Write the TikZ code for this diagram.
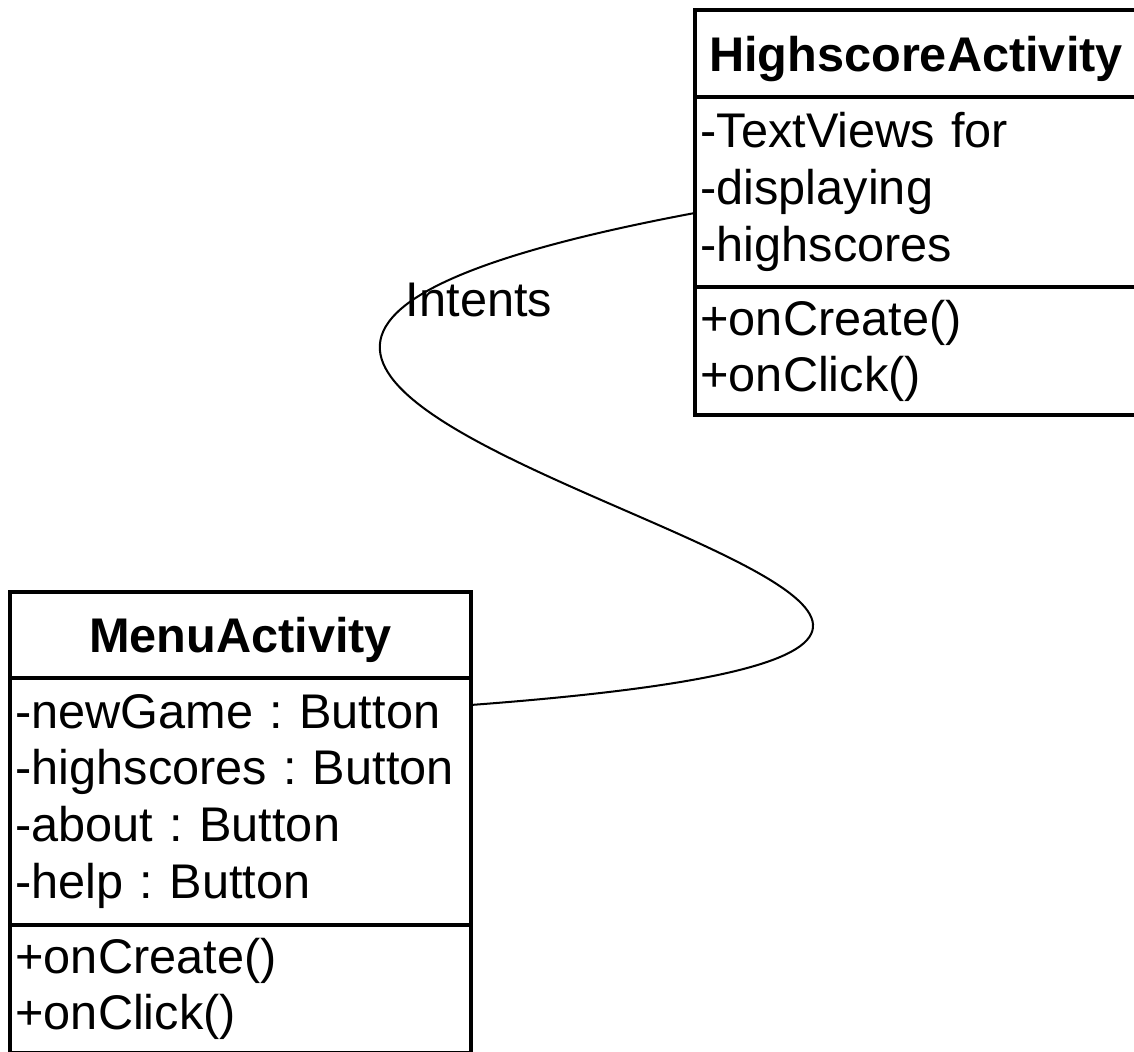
\documentclass[tikz,border=0pt]{standalone}
\usepackage{fontspec}
\setmainfont{Liberation Sans}
\usetikzlibrary{positioning}
\frenchspacing
\newcommand{\umlsize}{\fontsize{27.7pt}{32.4pt}\selectfont}

\begin{document}
\begin{tikzpicture}[x=0.02cm, y=-0.02cm,
    font=\umlsize,
    classhead/.style={draw, line width=2.5pt, anchor=north west,
                      outer sep=0pt, inner sep=0pt, text depth=0pt,
                      font=\umlsize\bfseries},
    compart/.style={draw, line width=2.5pt, anchor=north west,
                    outer sep=0pt, inner xsep=0.11cm, inner ysep=0pt,
                    align=left},
    assoc/.style={line width=1.15pt}]

  \useasboundingbox (0,0) rectangle (1134,1052);

  %% HighscoreActivity class
  \node[classhead, minimum width=8.84cm, minimum height=1.74cm]
       (hsHead) at (695,10) {HighscoreActivity};
  \node[compart, minimum width=8.84cm, minimum height=3.8cm,
        text width=8.62cm] (hsAttr) at (hsHead.south west)
    {-TextViews for\\-displaying\\-highscores};
  \node[compart, minimum width=8.84cm, minimum height=2.56cm,
        text width=8.62cm] (hsOps) at (hsAttr.south west)
    {+onCreate()\\+onClick()};

  %% MenuActivity class
  \node[classhead, minimum width=9.22cm, minimum height=1.72cm]
       (menuHead) at (10,592) {MenuActivity};
  \node[compart, minimum width=9.22cm, minimum height=4.94cm,
        text width=9.0cm] (menuAttr) at (menuHead.south west)
    {-newGame : Button\\-highscores : Button\\-about : Button\\-help : Button};
  \node[compart, minimum width=9.22cm, minimum height=2.56cm,
        text width=9.0cm] (menuOps) at (menuAttr.south west)
    {+onCreate()\\+onClick()};

  %% Association
  \draw[assoc] ([yshift=-0.42cm]hsAttr.west)
    .. controls +(-1015,190) and +(1065,-80) .. ([yshift=1.93cm]menuAttr.east);
  \node (intents) at (479,300) {Intents};
\end{tikzpicture}
\end{document}
